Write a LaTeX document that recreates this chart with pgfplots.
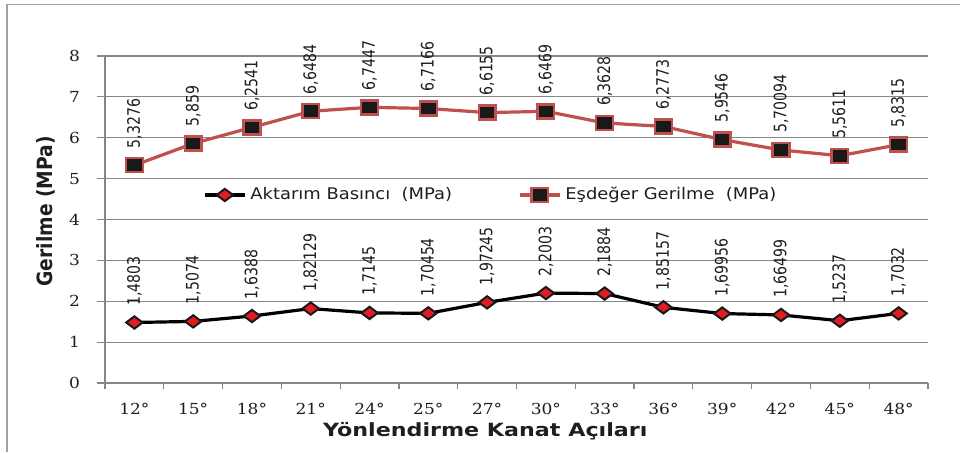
\documentclass[border=0pt]{standalone}
\usepackage{fontspec}
\setmainfont{DejaVu Sans}[FakeStretch=1.12]
\newfontfamily\rotfont{DejaVu Sans}[FakeStretch=0.82]
\newfontfamily\ylabfont{DejaVu Sans}[FakeStretch=0.89]
\newfontfamily\tickfont{DejaVu Serif}[FakeStretch=1.12]
\newfontfamily\xlabfont{DejaVu Sans}[FakeStretch=1.22]
\usepackage{pgfplots}
\usepackage{pgfplotstable}
\pgfplotsset{compat=1.18}
\definecolor{gridgray}{RGB}{134,134,134}
\definecolor{framegray}{RGB}{160,160,160}
\definecolor{serred}{RGB}{192,80,77}
\definecolor{mkred}{RGB}{226,28,34}
\definecolor{txt}{RGB}{30,30,30}

\pgfplotstableread{
x y label
0 1.4803 1,4803
1 1.5074 1,5074
2 1.6388 1,6388
3 1.82129 1,82129
4 1.7145 1,7145
5 1.70454 1,70454
6 1.97245 1,97245
7 2.2003 2,2003
8 2.1884 2,1884
9 1.85157 1,85157
10 1.69956 1,69956
11 1.66499 1,66499
12 1.5237 1,5237
13 1.7032 1,7032
}\basinc

\pgfplotstableread{
x y label
0 5.3276 5,3276
1 5.859 5,859
2 6.2541 6,2541
3 6.6484 6,6484
4 6.7447 6,7447
5 6.7166 6,7166
6 6.6155 6,6155
7 6.6469 6,6469
8 6.3628 6,3628
9 6.2773 6,2773
10 5.9546 5,9546
11 5.70094 5,70094
12 5.5611 5,5611
13 5.8315 5,8315
}\gerilme

\begin{document}
\begin{tikzpicture}
\path[use as bounding box] (-52.5pt,-34.5pt) rectangle (427.5pt,191.5pt);
\draw[framegray, line width=0.8pt] (-49pt,-34.5pt) -- (-49pt,189.25pt) -- (427.5pt,189.25pt);
\begin{axis}[
  at={(0,0)}, anchor=south west,
  scale only axis, width=411.5pt, height=163.5pt,
  xmin=-0.5, xmax=13.5, ymin=0, ymax=8,
  clip=false,
  xtick={0,...,13},
  xticklabels={12°,15°,18°,21°,24°,25°,27°,30°,33°,36°,39°,42°,45°,48°},
  minor xtick={-0.5,0.5,...,13.5},
  major x tick style={draw=none},
  ytick={0,...,8},
  ymajorgrids,
  grid style={gridgray, line width=0.6pt},
  axis x line*=bottom, axis y line*=left,
  axis line style={gridgray, line width=0.6pt, -},
  tick align=outside,
  major tick length=4pt, minor tick length=3pt,
  tick style={gridgray, line width=0.6pt},
  /pgf/number format/assume math mode=true,
  tick label style={font=\tickfont\fontsize{7.6}{8}\selectfont, text=txt},
  xticklabel style={yshift=-2.4pt},
  yticklabel style={xshift=-5pt},
  xlabel={Yönlendirme Kanat Açıları},
  ylabel={Gerilme (MPa)},
  every axis x label/.style={at={(axis description cs:0.462,-0.165)}, anchor=base, font=\xlabfont\bfseries\fontsize{9.1}{10}\selectfont, text=txt},
  every axis y label/.style={at={(axis description cs:-0.0717,0.525)}, anchor=center, rotate=90, font=\ylabfont\bfseries\fontsize{10.5}{11}\selectfont, text=txt},
  legend style={at={(0.47,0.575)}, anchor=center, draw=none, fill=none,
    font=\fontsize{8}{9}\selectfont, text=txt,
    /tikz/every even column/.append style={column sep=31pt}},
  legend columns=2,
  legend image code/.code={%
    \draw[mark repeat=2,mark phase=2] plot coordinates {(0pt,0pt) (10pt,0pt) (20pt,0pt)};},
  nodes near coords,
  point meta=explicit symbolic,
  every node near coord/.append style={rotate=90, anchor=west, inner xsep=8pt, inner ysep=0pt,
    font=\rotfont\fontsize{8.6}{9}\selectfont, text=txt},
]
\addplot[black, line width=1.6pt, mark=diamond*, mark size=4.1pt,
  mark options={rotate=90, fill=mkred, draw=black!90, line width=1pt, solid}]
  table[x=x, y=y, meta=label] {\basinc};
\addlegendentry{Aktarım Basıncı\ \ (MPa)}
\addplot[serred, line width=1.6pt, mark=square*, mark size=3.5pt,
  mark options={xscale=1.2, fill=black!90, draw=serred, line width=1.2pt, solid}]
  table[x=x, y=y, meta=label] {\gerilme};
\addlegendentry{Eşdeğer Gerilme\ \ (MPa)}
\end{axis}
\end{tikzpicture}
\end{document}
